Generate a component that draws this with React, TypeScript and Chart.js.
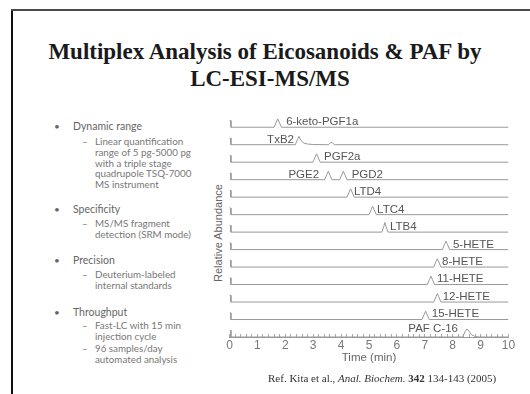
import React, { useEffect, useRef } from "react";
import { Chart, registerables } from "chart.js";

Chart.register(...registerables);

// ---- data ----
const traceNames = [
  "6-keto-PGF1a", "TxB2", "PGF2a", "PGE2 / PGD2", "LTD4", "LTC4", "LTB4",
  "5-HETE", "8-HETE", "11-HETE", "12-HETE", "15-HETE", "PAF C-16",
];
// points per trace: [time (min), relative height above its own baseline]
const trace6keto = [[0, 0.38], [0.05, 0.38], [0.05, 0], [1.6, 0], [1.68, 0.3], [1.73, 0.48], [1.78, 0.3], [1.86, 0], [10, 0]];
const traceTxB2 = [[0, 0.38], [0.05, 0.38], [0.05, 0], [2.36, 0], [2.44, 0.3], [2.49, 0.48], [2.55, 0.28], [2.65, 0.1], [2.8, 0.04], [3.0, 0.01], [3.55, 0], [3.62, 0.12], [3.68, 0.12], [3.76, 0], [10, 0]];
const tracePGF2a = [[0, 0.38], [0.05, 0.38], [0.05, 0], [2.99, 0], [3.07, 0.3], [3.12, 0.48], [3.17, 0.3], [3.25, 0], [10, 0]];
const tracePGE2D2 = [[0, 0.38], [0.05, 0.38], [0.05, 0], [3.41, 0], [3.49, 0.3], [3.54, 0.48], [3.59, 0.3], [3.67, 0], [3.95, 0], [4.03, 0.3], [4.08, 0.48], [4.13, 0.3], [4.21, 0], [10, 0]];
const traceLTD4 = [[0, 0.38], [0.05, 0.38], [0.05, 0], [4.21, 0], [4.29, 0.3], [4.34, 0.48], [4.39, 0.3], [4.47, 0], [10, 0]];
const traceLTC4 = [[0, 0.38], [0.05, 0.38], [0.05, 0], [5.0, 0], [5.08, 0.3], [5.13, 0.48], [5.18, 0.3], [5.26, 0], [10, 0]];
const traceLTB4 = [[0, 0.38], [0.05, 0.38], [0.05, 0], [5.46, 0], [5.53, 0.32], [5.57, 0.55], [5.61, 0.32], [5.68, 0], [10, 0]];
const trace5HETE = [[0, 0.38], [0.05, 0.38], [0.05, 0], [7.63, 0], [7.71, 0.3], [7.76, 0.48], [7.81, 0.3], [7.89, 0], [10, 0]];
const trace8HETE = [[0, 0.38], [0.05, 0.38], [0.05, 0], [7.32, 0], [7.4, 0.3], [7.45, 0.48], [7.5, 0.3], [7.58, 0], [10, 0]];
const trace11HETE = [[0, 0.38], [0.05, 0.38], [0.05, 0], [7.09, 0], [7.17, 0.3], [7.22, 0.48], [7.27, 0.3], [7.35, 0], [10, 0]];
const trace12HETE = [[0, 0.38], [0.05, 0.38], [0.05, 0], [7.32, 0], [7.4, 0.3], [7.45, 0.48], [7.5, 0.3], [7.58, 0], [10, 0]];
const trace15HETE = [[0, 0.38], [0.05, 0.38], [0.05, 0], [6.9, 0], [6.98, 0.3], [7.03, 0.48], [7.08, 0.3], [7.16, 0], [10, 0]];
const tracePAF = [[0, 0.38], [0.05, 0.38], [0.05, 0], [8.36, 0], [8.44, 0.3], [8.51, 0.46], [8.58, 0.34], [8.68, 0.12], [8.8, 0.03], [8.95, 0], [10, 0]];

const traces = [
  trace6keto, traceTxB2, tracePGF2a, tracePGE2D2, traceLTD4, traceLTC4, traceLTB4,
  trace5HETE, trace8HETE, trace11HETE, trace12HETE, trace15HETE, tracePAF,
];
const baselines = [12, 11, 10, 9, 8, 7, 6, 5, 4, 3, 2, 1, 0];

const labelTexts = ["6-keto-PGF1a", "TxB2", "PGF2a", "PGE2", "PGD2", "LTD4", "LTC4", "LTB4", "5-HETE", "8-HETE", "11-HETE", "12-HETE", "15-HETE", "PAF C-16"];
const labelTrace = [0, 1, 2, 3, 3, 4, 5, 6, 7, 8, 9, 10, 11, 12];
const labelX = [2.03, 2.31, 3.39, 3.21, 4.38, 4.46, 5.29, 5.75, 8.01, 7.62, 7.44, 7.64, 7.25, 8.19];
const labelAlign = ["left", "right", "left", "right", "left", "left", "left", "left", "left", "left", "left", "left", "left", "right"];
const labelDy = [0.3, 0.3, 0.3, 0.3, 0.3, 0.3, 0.3, 0.3, 0.3, 0.3, 0.3, 0.3, 0.3, 0.44];

const xMin = 0;
const xMax = 10;
const xStep = 0.2;

const SANS = '"Liberation Sans", Arial, Helvetica, sans-serif';
const SERIF = '"Liberation Serif", "Times New Roman", serif';
const BODY = 'Lato, "Noto Sans", sans-serif';

const labelPlugin = {
  id: "traceLabels",
  afterDatasetsDraw(chart: any) {
    const { ctx, scales } = chart;
    const x = scales.x;
    const y = scales.y;
    ctx.save();
    ctx.font = `11.5px ${SANS}`;
    ctx.fillStyle = "#555";
    ctx.textBaseline = "middle";
    labelTexts.forEach((t, i) => {
      ctx.textAlign = labelAlign[i];
      ctx.fillText(t, x.getPixelForValue(labelX[i]), y.getPixelForValue(baselines[labelTrace[i]] + labelDy[i]));
    });
    ctx.restore();
  },
};

function Chromatogram() {
  const ref = useRef<HTMLCanvasElement>(null);
  useEffect(() => {
    if (!ref.current) return;
    const chart = new Chart(ref.current, {
      type: "scatter",
      data: {
        datasets: traces.map((tr, i) => ({
          label: traceNames[i],
          data: tr.map(([t, h]) => ({ x: t, y: baselines[i] + h })),
          showLine: true,
          borderColor: "#999",
          borderWidth: 1,
          pointRadius: 0,
          tension: 0,
        })),
      },
      options: {
        animation: false,
        responsive: false,
        layout: { padding: { left: 29.5, right: 21.5, top: 15, bottom: 15 } },
        plugins: { legend: { display: false }, tooltip: { enabled: false } },
        scales: {
          x: {
            type: "linear",
            min: xMin,
            max: xMax,
            afterFit: (s: any) => { s.height = 28; },
            ticks: {
              stepSize: xStep,
              autoSkip: false,
              maxRotation: 0,
              minRotation: 0,
              padding: 4,
              color: "#777",
              font: { family: SANS, size: 12 },
              callback: (v: any) => {
                const n = Number(v);
                return Math.abs(n - Math.round(n)) < 1e-6 ? String(Math.round(n)) : "";
              },
            },
            grid: { drawOnChartArea: false, drawTicks: true, tickLength: -3, color: "#aaa" },
            border: { color: "#999" },
            title: {
              display: true,
              text: "Time (min)",
              color: "#666",
              font: { family: SANS, size: 11.5 },
              padding: { top: 0, bottom: 0 },
            },
          },
          y: { type: "linear", min: 0, max: 12.7, display: false },
        },
      },
      plugins: [labelPlugin],
    } as any);
    return () => chart.destroy();
  }, []);
  return <canvas ref={ref} width={330} height={280} style={{ position: "absolute", left: 200, top: 100, width: 330, height: 280 }} />;
}

type Line = { text: string; x: number; cy: number; size: number; color: string };
const MAIN = 10.5;
const SUB = 9.8;
const bulletLines: Line[] = [
  { text: "•", x: 54, cy: 126, size: 10, color: "#666" },
  { text: "Dynamic range", x: 73, cy: 126, size: MAIN, color: "#666" },
  { text: "–", x: 82, cy: 141, size: SUB, color: "#777" },
  { text: "Linear quantification", x: 95, cy: 141, size: SUB, color: "#777" },
  { text: "range of 5 pg-5000 pg", x: 95, cy: 152, size: SUB, color: "#777" },
  { text: "with a triple stage", x: 95, cy: 162.5, size: SUB, color: "#777" },
  { text: "quadrupole TSQ-7000", x: 95, cy: 173, size: SUB, color: "#777" },
  { text: "MS instrument", x: 95, cy: 183.5, size: SUB, color: "#777" },
  { text: "•", x: 54, cy: 209, size: 10, color: "#666" },
  { text: "Specificity", x: 73, cy: 209, size: MAIN, color: "#666" },
  { text: "–", x: 82, cy: 223, size: SUB, color: "#777" },
  { text: "MS/MS fragment", x: 95, cy: 223, size: SUB, color: "#777" },
  { text: "detection (SRM mode)", x: 95, cy: 234, size: SUB, color: "#777" },
  { text: "•", x: 54, cy: 260, size: 10, color: "#666" },
  { text: "Precision", x: 73, cy: 260, size: MAIN, color: "#666" },
  { text: "–", x: 82, cy: 274, size: SUB, color: "#777" },
  { text: "Deuterium-labeled", x: 95, cy: 274, size: SUB, color: "#777" },
  { text: "internal standards", x: 95, cy: 285, size: SUB, color: "#777" },
  { text: "•", x: 54, cy: 312, size: 10, color: "#666" },
  { text: "Throughput", x: 73, cy: 312, size: MAIN, color: "#666" },
  { text: "–", x: 82, cy: 325, size: SUB, color: "#777" },
  { text: "Fast-LC with 15 min", x: 95, cy: 325, size: SUB, color: "#777" },
  { text: "injection cycle", x: 95, cy: 336, size: SUB, color: "#777" },
  { text: "–", x: 82, cy: 348, size: SUB, color: "#777" },
  { text: "96 samples/day", x: 95, cy: 348, size: SUB, color: "#777" },
  { text: "automated analysis", x: 95, cy: 359, size: SUB, color: "#777" },
];

export default function App() {
  return (
    <div style={{ position: "fixed", left: 0, top: 0, width: 530, height: 394, background: "#fff", overflow: "hidden" }}>
      <div style={{ position: "absolute", left: 11, top: 9, width: 2, height: 394, background: "#111" }} />
      <div style={{ position: "absolute", left: 11, top: 9, width: 530, height: 2, background: "#4a4a4a" }} />
      <div style={{ position: "absolute", left: 0, width: 530, top: 38, textAlign: "center", fontFamily: SERIF, fontWeight: "bold", fontSize: 23, lineHeight: "27px", color: "#1a1a1a" }}>
        <div style={{ position: "relative", left: 0 }}>Multiplex Analysis of Eicosanoids &amp; PAF by</div>
        <div style={{ position: "relative", left: 5 }}>LC-ESI-MS/MS</div>
      </div>
      {bulletLines.map((l, i) => (
        <div key={i} style={{ position: "absolute", left: l.x, top: l.cy - 7, height: 14, lineHeight: "14px", fontFamily: BODY, fontSize: l.size, color: l.color, whiteSpace: "nowrap" }}>{l.text}</div>
      ))}
      <div style={{ position: "absolute", left: 218 - 60, top: 233 - 7, width: 120, height: 14, lineHeight: "14px", textAlign: "center", transform: "rotate(-90deg)", fontFamily: SANS, fontSize: 11, color: "#666", whiteSpace: "nowrap" }}>Relative Abundance</div>
      <Chromatogram />
      <div style={{ position: "absolute", left: 268, top: 371, fontFamily: SERIF, fontSize: 11, lineHeight: "14px", color: "#333", whiteSpace: "nowrap" }}>
        Ref. Kita et al., <i>Anal. Biochem.</i> <b>342</b> 134-143 (2005)
      </div>
    </div>
  );
}
